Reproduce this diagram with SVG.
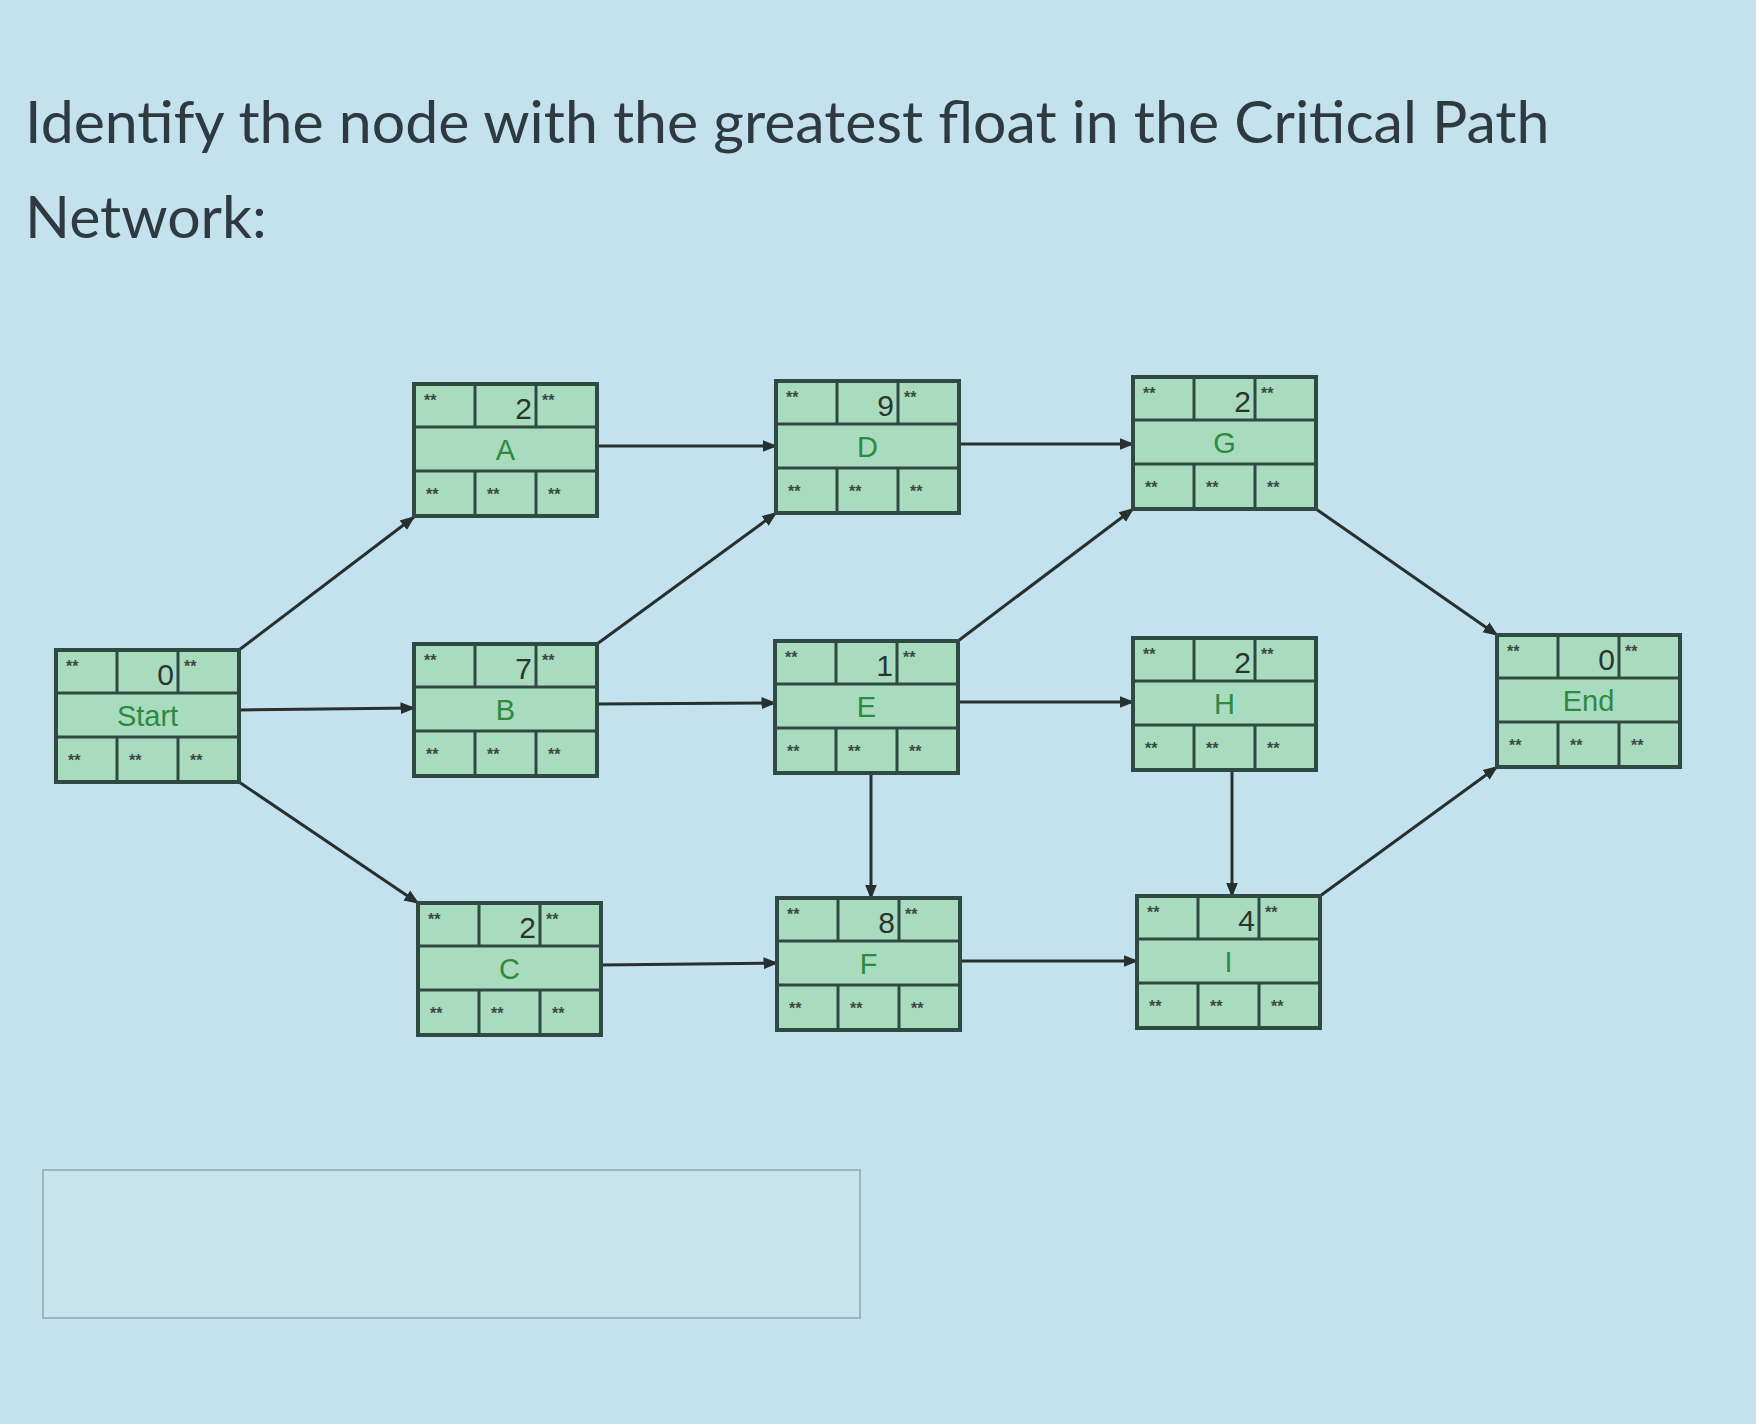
<svg xmlns="http://www.w3.org/2000/svg" width="1756" height="1424" viewBox="0 0 1756 1424">
<defs>
<style>
.bg{fill:#c3e2ee}
.title{font-family:Lato,"Open Sans",sans-serif;font-size:59px;fill:#2e3a40}
.box{fill:#a9dcbf;stroke:#2f4a42;stroke-width:4}
.ln{stroke:#2f4a42;stroke-width:3}
.st{font-family:"Liberation Sans",Arial,sans-serif;font-size:16px;font-weight:bold;fill:#3a4a44}
.num{font-family:"Liberation Sans",Arial,sans-serif;font-size:30px;fill:#2b3530;text-anchor:end}
.lbl{font-family:"Liberation Sans",Arial,sans-serif;font-size:29px;fill:#2e8a3e;text-anchor:middle}
.c{stroke:#26302e;stroke-width:3;fill:none;marker-end:url(#ah)}
.ans{fill:#c8e4ef;stroke:#9fb5bd;stroke-width:2}
</style>
<marker id="ah" viewBox="0 0 10 10" refX="9" refY="5" markerWidth="5" markerHeight="5" orient="auto"><path d="M0,1 L10,5 L0,9 z" fill="#26302e"/></marker>
<g id="frame">
<rect class="box" x="0" y="0" width="183" height="132"/>
<line class="ln" x1="0" y1="43" x2="183" y2="43"/>
<line class="ln" x1="0" y1="87" x2="183" y2="87"/>
<line class="ln" x1="61" y1="0" x2="61" y2="43"/>
<line class="ln" x1="122" y1="0" x2="122" y2="43"/>
<line class="ln" x1="61" y1="87" x2="61" y2="132"/>
<line class="ln" x1="122" y1="87" x2="122" y2="132"/>
<text class="st" x="10" y="22">**</text>
<text class="st" x="128" y="22">**</text>
<text class="st" x="12" y="116">**</text>
<text class="st" x="73" y="116">**</text>
<text class="st" x="134" y="116">**</text>
</g>
</defs>
<rect class="bg" x="0" y="0" width="1756" height="1424"/>
<text class="title" x="25" y="143">Identify the node with the greatest float in the Critical Path</text>
<text class="title" x="25" y="238">Network:</text>
<rect class="ans" x="43" y="1170" width="817" height="148"/>
<g id="connectors">
<line class="c" x1="239" y1="650" x2="414" y2="517"/>
<line class="c" x1="239" y1="710" x2="414" y2="708"/>
<line class="c" x1="239" y1="782" x2="418" y2="903"/>
<line class="c" x1="597" y1="446" x2="776" y2="446"/>
<line class="c" x1="597" y1="644" x2="776" y2="513"/>
<line class="c" x1="597" y1="704" x2="775" y2="703"/>
<line class="c" x1="601" y1="965" x2="777" y2="963"/>
<line class="c" x1="959" y1="444" x2="1133" y2="444"/>
<line class="c" x1="958" y1="641" x2="1133" y2="509"/>
<line class="c" x1="958" y1="702" x2="1133" y2="702"/>
<line class="c" x1="871" y1="773" x2="871" y2="898"/>
<line class="c" x1="960" y1="961" x2="1137" y2="961"/>
<line class="c" x1="1316" y1="509" x2="1497" y2="635"/>
<line class="c" x1="1232" y1="770" x2="1232" y2="896"/>
<line class="c" x1="1320" y1="896" x2="1497" y2="767"/>
</g>
<g id="node-start" transform="translate(56,650)"><use href="#frame"/><text class="num" x="118" y="35">0</text><text class="lbl" x="91.5" y="76">Start</text></g>
<g id="node-a" transform="translate(414,384)"><use href="#frame"/><text class="num" x="118" y="35">2</text><text class="lbl" x="91.5" y="76">A</text></g>
<g id="node-d" transform="translate(776,381)"><use href="#frame"/><text class="num" x="118" y="35">9</text><text class="lbl" x="91.5" y="76">D</text></g>
<g id="node-g" transform="translate(1133,377)"><use href="#frame"/><text class="num" x="118" y="35">2</text><text class="lbl" x="91.5" y="76">G</text></g>
<g id="node-b" transform="translate(414,644)"><use href="#frame"/><text class="num" x="118" y="35">7</text><text class="lbl" x="91.5" y="76">B</text></g>
<g id="node-e" transform="translate(775,641)"><use href="#frame"/><text class="num" x="118" y="35">1</text><text class="lbl" x="91.5" y="76">E</text></g>
<g id="node-h" transform="translate(1133,638)"><use href="#frame"/><text class="num" x="118" y="35">2</text><text class="lbl" x="91.5" y="76">H</text></g>
<g id="node-end" transform="translate(1497,635)"><use href="#frame"/><text class="num" x="118" y="35">0</text><text class="lbl" x="91.5" y="76">End</text></g>
<g id="node-c" transform="translate(418,903)"><use href="#frame"/><text class="num" x="118" y="35">2</text><text class="lbl" x="91.5" y="76">C</text></g>
<g id="node-f" transform="translate(777,898)"><use href="#frame"/><text class="num" x="118" y="35">8</text><text class="lbl" x="91.5" y="76">F</text></g>
<g id="node-i" transform="translate(1137,896)"><use href="#frame"/><text class="num" x="118" y="35">4</text><text class="lbl" x="91.5" y="76">I</text></g>
</svg>
